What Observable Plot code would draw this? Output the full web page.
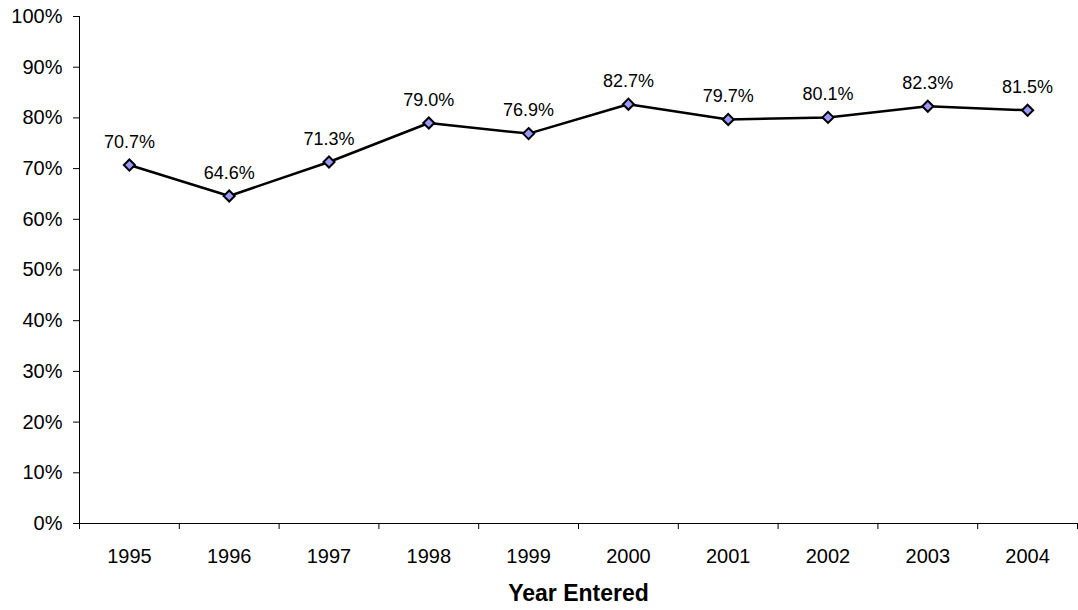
<!DOCTYPE html>
<html>
<head>
<meta charset="utf-8">
<script src="https://cdn.jsdelivr.net/npm/d3@7"></script>
<script src="https://cdn.jsdelivr.net/npm/@observablehq/plot@0.6"></script>
<style>
  html, body { margin: 0; padding: 0; background: #fff; }
  #chart svg { display: block; }
</style>
</head>
<body>
<div id="chart"></div>
<script>
const years = ["1995","1996","1997","1998","1999","2000","2001","2002","2003","2004"];
const rates = [0.707, 0.646, 0.713, 0.790, 0.769, 0.827, 0.797, 0.801, 0.823, 0.815];
const yTicks = [0, 0.1, 0.2, 0.3, 0.4, 0.5, 0.6, 0.7, 0.8, 0.9, 1.0];
const xTitle = "Year Entered";

const data = years.map((y, i) => ({i: i + 0.5, year: y, rate: rates[i]}));
const bounds = d3.range(years.length + 1);

const chart = Plot.plot({
  width: 1078,
  height: 610,
  marginLeft: 79,
  marginRight: 1,
  marginTop: 16,
  marginBottom: 87,
  style: {fontFamily: "'Liberation Sans', Arial, sans-serif", background: "#fff", color: "#000"},
  x: {type: "linear", domain: [0, years.length], axis: null},
  y: {domain: [0, 1], axis: null},
  marks: [
    // y axis
    Plot.axisY({ticks: yTicks, tickFormat: d => Math.round(d * 100) + "%", tickSize: 6, tickPadding: 11, fontSize: 20, label: null, stroke: "#000", strokeWidth: 1}),
    Plot.ruleX([0], {stroke: "#000", strokeWidth: 1}),
    // x axis
    Plot.ruleY([0], {stroke: "#000", strokeWidth: 1}),
    Plot.axisX({ticks: bounds, tickSize: 6, tickFormat: () => "", label: null, stroke: "#000"}),
    Plot.axisX({ticks: data.map(d => d.i), tickSize: 0, tickPadding: 25, tickFormat: (d) => years[Math.floor(d)], fontSize: 20, label: null}),
    Plot.text([xTitle], {frameAnchor: "bottom", lineAnchor: "middle", dy: 70, text: d => d, fontSize: 23, fontWeight: "bold", fill: "#000"}),
    // series
    Plot.line(data, {x: "i", y: "rate", stroke: "#000", strokeWidth: 2.5}),
    Plot.dot(data, {x: "i", y: "rate", symbol: "diamond2", r: 5, fill: "#9999FF", stroke: "#000", strokeWidth: 2}),
    Plot.text(data, {x: "i", y: "rate", text: d => (d.rate * 100).toFixed(1) + "%", dy: -23, fontSize: 18, fill: "#000"})
  ]
});
document.getElementById("chart").appendChild(chart);
</script>
</body>
</html>
